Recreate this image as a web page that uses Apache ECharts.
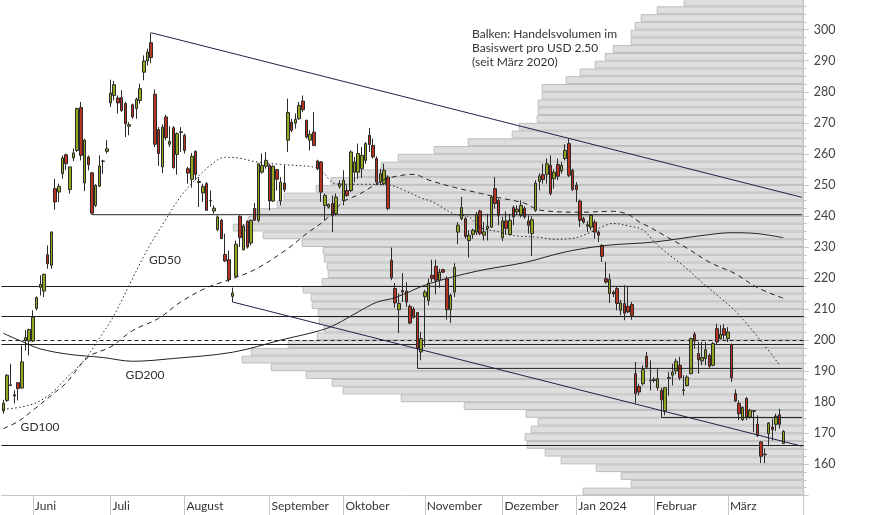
<!DOCTYPE html>
<html><head><meta charset="utf-8">
<script src="https://cdn.jsdelivr.net/npm/echarts@6/dist/echarts.min.js"></script>
<style>html,body{margin:0;padding:0;background:#fff}#c{width:874px;height:515px}</style>
</head><body><div id="c"></div>
<script>
// ---------- data ----------
const firstDay = '2023-05-19';
const holidays = ['2023-05-29','2023-06-19','2023-07-04','2023-09-04','2023-11-23','2023-12-25','2024-01-01','2024-01-15','2024-02-19','2024-03-29'];
const dayCount = 217; // trading-day slots on the axis (data ends 2024-03-22)
const monthLabels = [['2023-06','Juni'],['2023-07','Juli'],['2023-08','August'],['2023-09','September'],['2023-10','Oktober'],['2023-11','November'],['2023-12','Dezember'],['2024-01','Jan 2024'],['2024-02','Februar'],['2024-03','März']];
const priceMin = 150, priceMax = 310, priceStep = 10;

// daily candles: [open, close, low, high]
const ohlc = [
[177.2,179.7,176.3,180.8],[180.6,188.7,180.1,189.0],[185.6,185.4,185.2,192.4],[182.4,182.0,179.6,183.8],[186.3,184.4,180.6,186.5],
[184.6,193.0,184.4,198.3],[199.9,200.8,196.7,203.2],[199.7,203.4,195.1,203.7],[199.7,207.4,199.4,209.6],[210.2,213.7,209.6,214.1],
[217.0,218.0,214.4,220.9],[215.8,221.2,213.9,221.4],[227.5,224.6,223.0,230.5],[224.1,234.8,223.0,235.1],[248.8,244.5,242.0,252.0],
[247.7,249.5,244.5,250.4],[253.6,258.7,252.0,259.5],[259.7,256.8,254.7,260.1],[248.5,255.8,247.2,255.9],[258.7,260.3,257.7,261.7],
[261.1,274.6,260.6,274.9],[274.9,259.5,257.9,276.7],[250.6,264.4,248.0,264.9],[259.0,256.5,254.7,259.5],[253.9,240.9,240.4,254.1],
[243.4,249.9,242.9,250.2],[249.6,256.1,249.3,259.5],[257.6,257.7,253.6,258.1],[260.8,261.6,260.1,264.4],[276.4,279.6,275.1,283.9],
[278.8,282.3,277.2,283.5],[278.0,276.4,273.0,278.8],[278.1,274.0,273.5,280.5],[276.2,269.7,265.4,276.7],[268.9,269.4,266.0,270.2],
[275.8,271.9,271.3,276.2],[274.6,277.6,271.3,278.1],[277.2,281.0,276.2,282.6],[286.3,289.9,283.7,291.7],[289.9,292.8,288.5,293.9],
[295.8,291.0,289.2,299.0],[279.2,263.1,262.2,280.7],[267.8,260.1,256.1,268.6],[255.8,268.6,253.8,269.5],[271.9,265.2,264.4,272.6],
[263.1,264.0,262.2,268.9],[268.4,255.6,255.2,268.9],[259.8,266.5,253.3,266.9],[266.9,267.1,260.6,268.6],[266.0,261.1,260.1,266.5],
[255.2,253.8,250.4,255.8],[251.8,259.2,249.1,260.3],[260.8,253.4,251.5,261.1],[250.8,251.1,242.9,252.5],[247.4,249.5,244.5,250.4],
[250.4,241.8,241.6,250.9],[245.0,244.9,242.9,248.2],[241.6,242.5,240.7,243.4],[235.6,239.7,235.1,240.2],[238.6,232.7,232.6,239.1],
[227.6,225.5,225.2,234.3],[225.9,219.5,218.7,228.9],[214.1,215.2,212.3,216.9],[220.6,230.9,220.1,232.1],[239.9,233.0,230.0,240.2],
[229.1,236.7,228.9,237.3],[238.3,230.0,229.5,238.6],[231.3,238.6,230.5,238.8],[242.4,238.6,238.4,244.2],[238.6,256.8,238.0,257.0],
[254.1,256.3,253.6,260.1],[256.0,257.9,255.2,260.6],[256.3,244.8,241.8,256.8],[244.8,256.0,244.5,256.3],[254.9,251.8,248.2,255.2],
[244.8,250.9,243.4,252.5],[250.6,248.5,247.7,256.3],[264.4,273.3,260.6,277.8],[270.2,267.6,267.0,271.3],[269.9,271.1,268.1,273.0],
[271.3,275.6,271.0,276.7],[277.0,274.2,273.5,278.8],[270.8,265.4,264.9,271.0],[264.4,266.3,261.1,267.6],[267.0,262.7,262.4,273.5],
[257.7,255.2,254.7,258.1],[257.4,247.7,244.5,257.7],[243.4,246.6,238.6,247.2],[242.9,243.7,242.4,244.0],[244.0,240.2,234.8,246.6],
[240.7,246.1,240.2,247.2],[249.5,250.4,248.8,251.5],[245.0,251.5,243.4,254.7],[248.2,246.6,246.1,249.9],[248.2,260.6,247.7,261.1],
[254.1,257.4,250.9,259.0],[254.1,260.1,252.0,263.3],[255.2,259.5,252.3,262.2],[257.9,263.3,256.8,263.8],[266.0,263.0,260.6,268.3],
[262.7,259.0,258.5,264.9],[258.5,250.9,249.9,259.2],[250.9,253.6,249.9,255.2],[250.4,254.7,249.9,256.8],[252.5,242.4,241.8,253.1],
[225.7,220.1,219.3,229.8],[216.6,212.0,210.5,218.4],[209.8,211.8,202.3,215.0],[216.0,215.5,212.3,221.6],[215.8,212.3,210.7,218.7],
[210.9,205.5,205.1,211.5],[210.0,207.4,206.9,210.7],[208.9,197.3,190.9,209.1],[196.2,200.5,193.5,202.6],[214.0,215.5,197.8,216.2],
[212.8,218.4,211.2,219.8],[220.9,219.8,218.7,225.9],[223.8,219.3,214.8,225.9],[219.3,221.9,216.9,223.0],[222.7,221.9,221.6,223.0],
[219.8,209.8,206.6,220.6],[209.8,214.4,205.5,215.0],[215.5,223.4,213.9,224.8],[234.8,237.0,230.9,238.0],[239.1,242.7,238.6,246.1],
[239.1,233.4,232.7,239.7],[232.1,233.8,226.6,235.4],[234.1,235.4,232.7,235.9],[234.8,240.5,233.8,241.3],[241.6,234.3,233.8,242.0],
[233.8,234.9,232.1,238.0],[235.9,236.7,232.1,240.7],[236.4,246.1,236.2,246.6],[248.8,244.0,242.4,252.5],[245.0,240.2,237.0,245.6],
[233.0,238.4,231.9,239.7],[238.4,236.0,234.0,241.5],[234.0,238.6,233.8,240.7],[242.7,239.7,237.0,243.4],[241.3,242.2,240.2,243.4],
[240.2,243.4,239.5,245.0],[242.4,239.7,239.1,243.1],[238.4,237.0,234.3,240.2],[234.3,238.8,227.1,239.9],[241.8,250.6,241.3,251.5],
[251.1,252.9,248.2,253.8],[253.3,251.7,250.4,256.8],[253.4,256.8,250.4,258.5],[256.3,247.2,246.6,259.5],[252.0,254.1,248.8,254.9],
[256.6,252.8,251.5,258.5],[254.5,256.3,253.6,257.4],[258.5,261.1,257.9,263.1],[263.3,253.1,252.5,264.9],[254.7,248.5,248.0,255.2],
[249.9,248.5,244.5,250.9],[244.8,238.6,236.4,245.3],[239.1,238.0,237.5,239.7],[236.7,237.2,234.8,238.4],[236.4,240.2,235.4,240.7],
[238.0,234.8,232.7,238.8],[234.8,233.8,231.6,235.4],[230.5,227.0,225.2,230.9],[219.8,218.7,218.2,225.2],[215.0,219.5,212.0,221.4],
[215.5,214.9,213.9,216.0],[216.6,211.8,209.6,217.1],[209.6,212.0,208.0,213.0],[211.8,208.7,206.4,217.7],[210.9,209.1,208.7,217.1],
[211.5,208.0,206.6,212.3],[189.2,182.8,179.6,193.0],[185.1,183.3,182.2,186.0],[186.0,190.5,185.4,191.9],[194.8,191.3,190.8,196.2],
[187.1,186.9,183.8,193.5],[187.0,187.4,186.3,188.0],[184.7,187.6,183.8,190.8],[183.8,180.8,175.1,184.7],[177.2,184.7,175.8,184.9],
[187.7,188.0,182.2,189.7],[188.7,189.7,185.4,192.4],[190.1,193.2,189.0,194.1],[191.9,187.9,187.1,194.6],[183.8,184.0,182.2,188.7],
[185.4,188.1,185.1,188.7],[189.2,200.5,189.0,200.8],[201.9,199.7,197.3,202.6],[195.7,193.7,189.2,199.4],[193.3,194.4,191.9,199.4],
[194.1,196.9,191.9,199.4],[195.1,191.6,191.1,195.7],[191.9,198.9,191.6,199.4],[203.7,199.4,198.7,205.3],[200.5,201.9,200.2,204.8],
[203.7,201.6,200.2,205.1],[200.5,202.6,199.4,204.2],[198.6,187.9,186.5,198.9],[182.8,180.4,180.1,184.1],[179.6,176.3,174.2,180.6],
[174.4,178.3,174.0,178.7],[181.2,175.2,174.2,181.7],[175.2,177.4,174.7,177.9],[177.1,177.3,170.4,177.4],[172.9,169.3,168.8,175.8],
[167.2,162.6,160.4,167.5],[163.1,163.3,160.4,165.1],[169.9,173.3,165.8,173.6],[172.0,171.2,167.7,174.7],[172.9,175.5,170.7,176.3],
[176.0,172.9,171.5,177.9],[166.7,170.6,166.7,171.0]
];

// moving averages, read as [trading-day index, value]
const gd50 = [[0,177.7],[5,178.5],[9,179.9],[13,182.9],[17,187.7],[22,193.7],[26,200.6],[30,208.1],[34,217.6],[39,229.2],[44,239.0],[48,246.3],[52,251.8],[56,256.3],[60,258.9],[64,258.6],[68,257.5],[75,256.6],[85,255.5],[87,253.4],[89,250.8],[92,250.2],[98,250.2],[104,250.0],[107,249.0],[113,245.8],[116,244.6],[122,240.6],[126,239.7],[129,236.3],[134,234.9],[138,233.7],[145,233.1],[149,232.5],[154,232.8],[158,234.3],[162,236.5],[165,237.6],[169,236.8],[173,235.5],[176,231.8],[178,229.5],[184,223.9],[189,218.6],[194,213.6],[198,209.4],[202,204.0],[206,198.2],[210,191.9]];
const gd100 = [[0,171.5],[4,173.8],[8,177.4],[14,183.2],[17,186.2],[23,194.6],[29,197.8],[35,203.1],[42,207.0],[48,212.3],[55,216.9],[61,219.4],[68,222.7],[77,229.5],[82,234.3],[87,238.6],[92,244.6],[96,246.8],[100,249.6],[104,252.1],[111,253.4],[115,251.6],[122,249.2],[129,247.3],[134,245.9],[141,244.1],[145,241.9],[156,241.2],[165,241.5],[169,240.5],[172,238.1],[175,236.3],[180,232.9],[185,229.6],[191,225.1],[198,221.4],[204,216.9],[211,213.5]];
const gd200 = [[0,202.2],[5,199.6],[10,197.2],[18,195.4],[27,194.4],[35,193.2],[46,194.1],[62,196.1],[75,200.0],[86,203.2],[90,205.1],[96,209.1],[101,212.2],[106,213.7],[115,218.1],[128,222.2],[141,225.0],[152,228.4],[163,230.5],[176,231.6],[189,233.7],[197,234.6],[204,234.3],[211,233.0]];

// trend lines [[day, price],[day, price]]
const trendLines = [[[40,299.0],[216,246.0]], [[62,212.3],[216,165.85]]];
// horizontal support / resistance levels
const fullLevels = [217.3, 207.6, 198.6, 166.3];
const dashedLevels = [200];
const startLevels = [[24,240.4],[112,190.9],[178,175.1]];

// volume profile per USD 2.50 price bin (bins starting at 150)
const binStart = 150, binSize = 2.5;
const volume = [221,173,183,208,243,259,277,279,273,266,278,340,403,461,472,498,533,562,553,516,487,480,485,486,492,493,501,482,476,477,480,481,502,541,571,556,548,527,520,488,473,447,423,406,370,336,292,285,267,266,266,262,262,238,224,209,199,191,173,173,169,163,147,120];

const noteText = 'Balken: Handelsvolumen im\nBasiswert pro USD 2.50\n(seit März 2020)';
const maLabels = [['GD50',165,260.5],['GD200',145,374.7],['GD100',40,427]];

// ---------- build ----------
function makeDates(){
  const out=[]; const p=firstDay.split('-').map(Number);
  const d=new Date(Date.UTC(p[0],p[1]-1,p[2]));
  while(out.length<dayCount){
    const wd=d.getUTCDay(); const s=d.toISOString().slice(0,10);
    if(wd!==0&&wd!==6&&holidays.indexOf(s)<0) out.push(s);
    d.setUTCDate(d.getUTCDate()+1);
  }
  return out;
}
const dates = makeDates();
const monthMap = {}; monthLabels.forEach(m=>monthMap[m[0]]=m[1]);
function isMonthStart(i){
  if(i<=0) return false;
  const m=dates[i].slice(0,7);
  return m!==dates[i-1].slice(0,7) && monthMap[m]!==undefined;
}
const bins = volume.map((v,i)=>String(binStart+i*binSize));

const GRID = {left:1.45, right:70.3, top:-1.4, bottom:19.6};
const gridWidth = 874 - GRID.left - GRID.right;
const FONT = 'Lato, "Noto Sans", sans-serif';
const LINE = '#222222', NAVY = '#1c2347', AXIS = '#c6c6c6';

function seg(points, color, type){
  return {type:'line', xAxisIndex:0, yAxisIndex:0, data:points, showSymbol:false, symbol:'none', silent:true, z:6,
    lineStyle:{color:color, width:1, type:type||'solid'}, animation:false};
}
const series = [];
series.push({type:'bar', xAxisIndex:1, yAxisIndex:1, data:volume, barCategoryGap:'0%', barGap:'0%', silent:true, z:1,
  itemStyle:{color:'#dedede', borderColor:'#bdbdbd', borderWidth:1}, animation:false});
series.push({type:'candlestick', xAxisIndex:0, yAxisIndex:0, data:ohlc, barWidth:3, z:5, silent:true,
  itemStyle:{color:'#93a61d', color0:'#b8321f', borderColor:'#2a2a2a', borderColor0:'#2a2a2a', borderWidth:1}});
series.push(Object.assign(seg(gd50, LINE, [1.5,2.5]), {smooth:0.35}));
series.push(Object.assign(seg(gd100, LINE, [5,4]), {smooth:0.35}));
series.push(Object.assign(seg(gd200, LINE, 'solid'), {smooth:0.35}));
trendLines.forEach(t=>series.push(seg(t, NAVY)));
startLevels.forEach(l=>series.push(seg([[l[0],l[1]],[dayCount-1,l[1]]], LINE)));
series.push({type:'line', xAxisIndex:0, yAxisIndex:0, data:[], silent:true, z:6,
  markLine:{symbol:'none', silent:true, label:{show:false}, animation:false,
    data: fullLevels.map(v=>({yAxis:v, lineStyle:{color:LINE,width:1,type:'solid'}}))
      .concat(dashedLevels.map(v=>({yAxis:v, lineStyle:{color:LINE,width:1,type:[4,3]}})))}});

const graphics = [
  {type:'text', left:472, top:27, style:{text:noteText, font:'12px '+FONT, fill:'#333', lineHeight:14.2}, z:10},
  {type:'line', shape:{x1:874-GRID.right, y1:490, x2:874-GRID.right, y2:515}, style:{stroke:AXIS, lineWidth:1}, z:10}
].concat(maLabels.map(l=>({type:'text', x:l[1], y:l[2], style:{text:l[0], font:'12px '+FONT, fill:'#333', align:'center', verticalAlign:'middle'}, z:10})));

const option = {
  animation:false,
  grid:Object.assign({containLabel:false, outerBoundsMode:'none'}, GRID),
  xAxis:[
    {type:'category', data:dates, boundaryGap:true, position:'bottom',
      axisLine:{show:true, lineStyle:{color:AXIS}},
      axisTick:{show:true, alignWithLabel:true, length:20, interval:(i)=>isMonthStart(i), lineStyle:{color:AXIS}},
      axisLabel:{show:true, interval:(i)=>isMonthStart(i), formatter:(v)=>monthMap[v.slice(0,7)]||'',
        align:'left', margin:5, padding:[0,0,0,2], color:'#333', fontSize:12, fontFamily:FONT},
      splitLine:{show:false}},
    {type:'value', position:'top', inverse:true, min:0, max:gridWidth, show:false}
  ],
  yAxis:[
    {type:'value', position:'right', min:priceMin, max:priceMax, interval:priceStep, scale:false,
      axisLine:{show:true, lineStyle:{color:AXIS}},
      axisTick:{show:true, length:5, lineStyle:{color:AXIS}},
      minorTick:{show:true, splitNumber:4, length:3, lineStyle:{color:AXIS}},
      axisLabel:{showMinLabel:false, showMaxLabel:false, margin:10, color:'#444', fontSize:12.5, fontFamily:FONT},
      splitLine:{show:false}},
    {type:'category', data:bins, boundaryGap:true, show:false, position:'left'}
  ],
  graphic:graphics,
  series:series
};
const chart = echarts.init(document.getElementById('c'), null, {renderer:'canvas'});
chart.setOption(option);
</script></body></html>
